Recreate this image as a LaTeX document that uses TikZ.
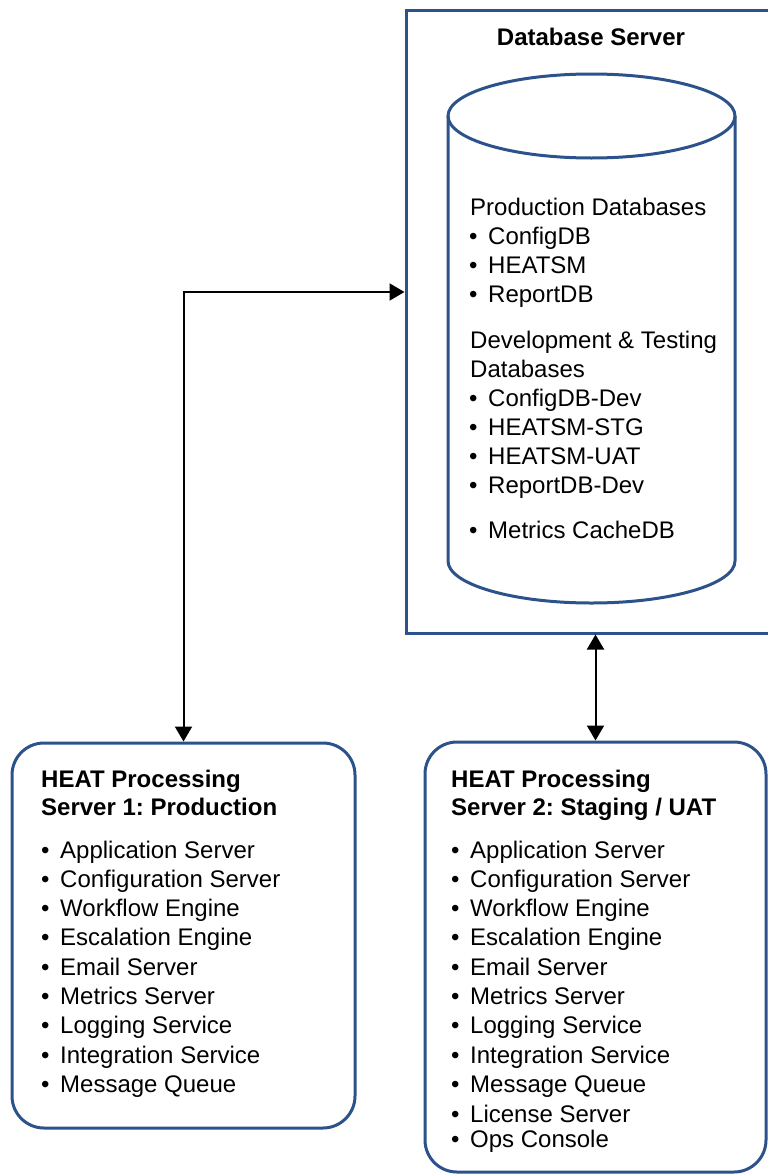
\documentclass[tikz,border=0pt]{standalone}
\usepackage{fontspec}
\setmainfont{Liberation Sans}
\usetikzlibrary{arrows.meta}
\definecolor{frameblue}{RGB}{44,82,140}
\newcommand{\bul}{\makebox[19pt][l]{\textbullet}}
\frenchspacing

\begin{document}
\begin{tikzpicture}[x=1pt,y=-1pt,
    frame/.style={draw=frameblue, line width=3pt, inner sep=0pt},
    txt/.style={anchor=base west, inner sep=0pt, font=\fontsize{24}{29}\selectfont},
    head/.style={txt, font=\fontsize{24}{29}\selectfont\bfseries},
    link/.style={line width=2pt, {Triangle[length=15pt,width=17pt]}-{Triangle[length=15pt,width=17pt]}}]
	\useasboundingbox (0,0) rectangle (768,1175);
	\clip (0,0) rectangle (768,1175);

	% boxes
	\node[frame, minimum width=400pt, minimum height=623pt] (db) at (606,321.5) {};
	\node[frame, rounded corners=32pt, minimum width=343pt, minimum height=385pt] (prod) at (183.5,935.5) {};
	\node[frame, rounded corners=32pt, minimum width=341pt, minimum height=430pt] (stg) at (595.5,957) {};

	% cylinder
	\draw[frameblue, line width=3pt] (448,116) -- (448,561) arc[start angle=180, end angle=360, x radius=143.5pt, y radius=42pt] -- (735,116);
	\draw[frameblue, line width=3pt] (591.5,116) ellipse [x radius=143.5pt, y radius=42pt];

	% database texts
	\node[head, anchor=base] (dbtitle) at (591,45) {Database Server};
	\node[txt] (prodhead) at (470,215) {Production Databases};
	\foreach \name [count=\i] in {ConfigDB,HEATSM,ReportDB}
		\node[txt] (pdb\i) at (469,{215+29*\i}) {\bul\name};
	\node[txt] (devhead) at (470,348) {Development \& Testing};
	\node[txt] (devhead2) at (470,377) {Databases};
	\foreach \name [count=\i] in {ConfigDB-Dev,HEATSM-STG,HEATSM-UAT,ReportDB-Dev}
		\node[txt] (ddb\i) at (469,{377+29*\i}) {\bul\name};
	\node[txt] (cache) at (469,538) {\bul Metrics CacheDB};

	% server 1
	\node[head] (prodtitle1) at (41,787) {HEAT Processing};
	\node[head] (prodtitle2) at (41,815) {Server 1: Production};
	\foreach \name [count=\i] in {Application Server,Configuration Server,Workflow Engine,Escalation Engine,Email Server,Metrics Server,Logging Service,Integration Service,Message Queue}
		\node[txt] (p\i) at (41,{858+29.3*(\i-1)}) {\bul\name};

	% server 2
	\node[head] (stgtitle1) at (451,787) {HEAT Processing};
	\node[head] (stgtitle2) at (451,815) {Server 2: Staging / UAT};
	\foreach \name [count=\i] in {Application Server,Configuration Server,Workflow Engine,Escalation Engine,Email Server,Metrics Server,Logging Service,Integration Service,Message Queue}
		\node[txt] (s\i) at (451,{858+29.3*(\i-1)}) {\bul\name};
	\node[txt] (s10) at (451,1122) {\bul License Server};
	\node[txt] (s11) at (451,1147) {\bul Ops Console};

	% connectors
	\coordinate (dbin) at (db.west |- 0,292);
	\draw[link] (dbin) -| (prod.north);
	\draw[link] (stg.north |- db.south) -- (stg.north);

\end{tikzpicture}
\end{document}
